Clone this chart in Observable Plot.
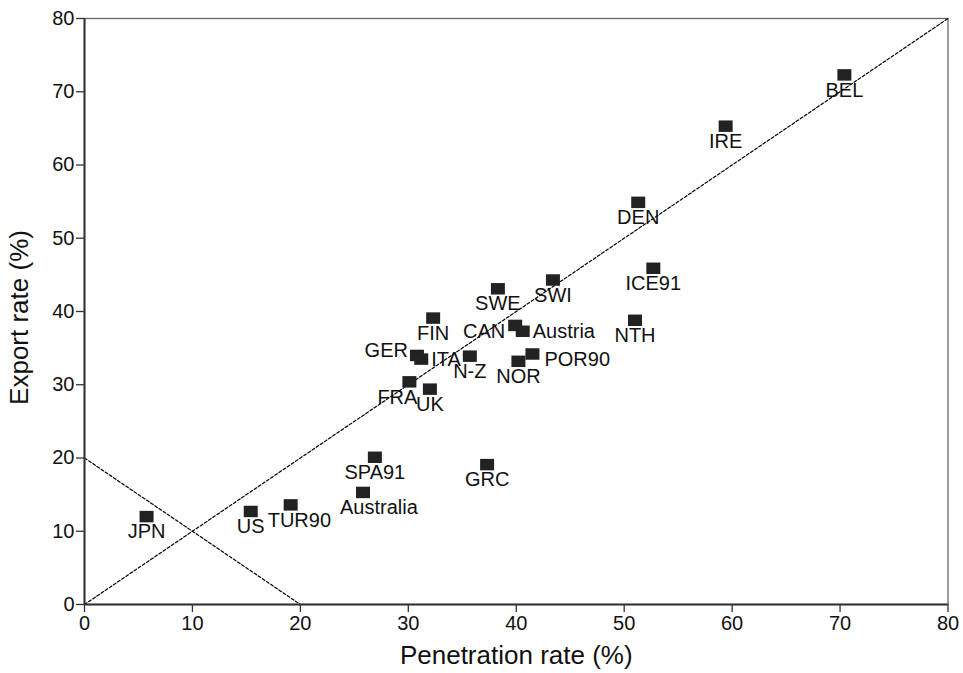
<!DOCTYPE html>
<html>
<head>
<meta charset="utf-8">
<script src="https://cdn.jsdelivr.net/npm/d3@7"></script>
<script src="https://cdn.jsdelivr.net/npm/@observablehq/plot@0.6"></script>
<style>
  html, body { margin: 0; padding: 0; background: #fff; }
  #chart svg { display: block; }
</style>
</head>
<body>
<div id="chart"></div>
<script>
// ---- data ----
const countries = ["BEL","IRE","DEN","ICE91","NTH","SWI","SWE","FIN","CAN","Austria","GER","ITA","N-Z","NOR","POR90","FRA","UK","SPA91","GRC","Australia","TUR90","US","JPN"];
const penetration = [70.4, 59.4, 51.3, 52.7, 51.0, 43.4, 38.3, 32.3, 39.9, 40.6, 30.8, 31.2, 35.7, 40.2, 41.5, 30.1, 32.0, 26.9, 37.3, 25.8, 19.1, 15.4, 5.75];
const exportRate  = [72.3, 65.3, 54.9, 45.9, 38.8, 44.3, 43.1, 39.1, 38.1, 37.3, 34.0, 33.5, 33.9, 33.2, 34.2, 30.4, 29.4, 20.1, 19.1, 15.3, 13.6, 12.7, 12.0];
const labelSide   = ["below","below","below","below","below","below","below","below","left","right","leftUp","right","below","below","rightDown","belowLeft","below","below","below","belowRight","belowRight","below","below"];
const xTicks = [0, 10, 20, 30, 40, 50, 60, 70, 80];
const yTicks = [0, 10, 20, 30, 40, 50, 60, 70, 80];
const diagonal = [{x: 0, y: 0}, {x: 80, y: 80}];
const antiDiagonal = [{x: 0, y: 20}, {x: 20, y: 0}];
const xTitle = "Penetration rate (%)";
const yTitle = "Export rate (%)";

const rows = countries.map((c, i) => ({name: c, x: penetration[i], y: exportRate[i], side: labelSide[i]}));

// ---- label placement styles ----
const placements = {
  below:      {textAnchor: "middle", lineAnchor: "top",    dx: 0,   dy: 7.5},
  belowLeft:  {textAnchor: "end",    lineAnchor: "top",    dx: 8,   dy: 7.5},
  belowRight: {textAnchor: "start",  lineAnchor: "top",    dx: -23, dy: 7.5},
  left:       {textAnchor: "end",    lineAnchor: "middle", dx: -10, dy: 6},
  leftUp:     {textAnchor: "end",    lineAnchor: "middle", dx: -9,  dy: -5},
  right:      {textAnchor: "start",  lineAnchor: "middle", dx: 10,  dy: 0},
  rightDown:  {textAnchor: "start",  lineAnchor: "middle", dx: 12,  dy: 6}
};

// rectangular marker (slightly wider than tall)
const boxSymbol = {
  draw(context, size) {
    const r = Math.sqrt(size / Math.PI);
    const h = r * 0.82;
    context.moveTo(-r, -h);
    context.lineTo(r, -h);
    context.lineTo(r, h);
    context.lineTo(-r, h);
    context.closePath();
  }
};

const FONT = "'Liberation Sans', Arial, Helvetica, sans-serif";

const labelMarks = Object.entries(placements).map(([key, p]) =>
  Plot.text(rows.filter(d => d.side === key), {
    x: "x", y: "y", text: "name",
    textAnchor: p.textAnchor, lineAnchor: p.lineAnchor,
    dx: p.dx, dy: p.dy,
    fontSize: 20, fill: "#111"
  })
);

const chart = Plot.plot({
  width: 963,
  height: 673,
  marginLeft: 84,
  marginRight: 15.5,
  marginTop: 18,
  marginBottom: 69,
  style: {fontFamily: FONT, fontSize: "20px", color: "#111", background: "#fff"},
  x: {domain: [0, 80]},
  y: {domain: [0, 80]},
  marks: [
    Plot.frame({stroke: "#666", strokeWidth: 1.3}),
    Plot.line(diagonal, {x: "x", y: "y", stroke: "#000", strokeWidth: 1.2, strokeDasharray: "3,2"}),
    Plot.line(antiDiagonal, {x: "x", y: "y", stroke: "#000", strokeWidth: 1.2, strokeDasharray: "3,2"}),
    Plot.ruleX([0], {stroke: "#333", strokeWidth: 2}),
    Plot.ruleY([0], {stroke: "#333", strokeWidth: 2}),
    Plot.axisX({ticks: xTicks, tickSize: 8, tickPadding: 3, fontSize: 20, label: null, stroke: "#333", strokeWidth: 1.3}),
    Plot.axisY({ticks: yTicks, tickSize: 8, tickPadding: 2, fontSize: 20, label: null, stroke: "#333", strokeWidth: 1.3}),
    Plot.dot(rows, {x: "x", y: "y", symbol: boxSymbol, r: 7, fill: "#222", stroke: "none"}),
    ...labelMarks,
    Plot.text([xTitle], {frameAnchor: "bottom", textAnchor: "middle", dy: 51, lineAnchor: "middle", fontSize: 26, fill: "#111"}),
    Plot.text([yTitle], {frameAnchor: "left", textAnchor: "middle", rotate: -90, dx: -65, dy: 6, lineAnchor: "middle", fontSize: 26, fill: "#111"})
  ]
});

document.getElementById("chart").appendChild(chart);
</script>
</body>
</html>
